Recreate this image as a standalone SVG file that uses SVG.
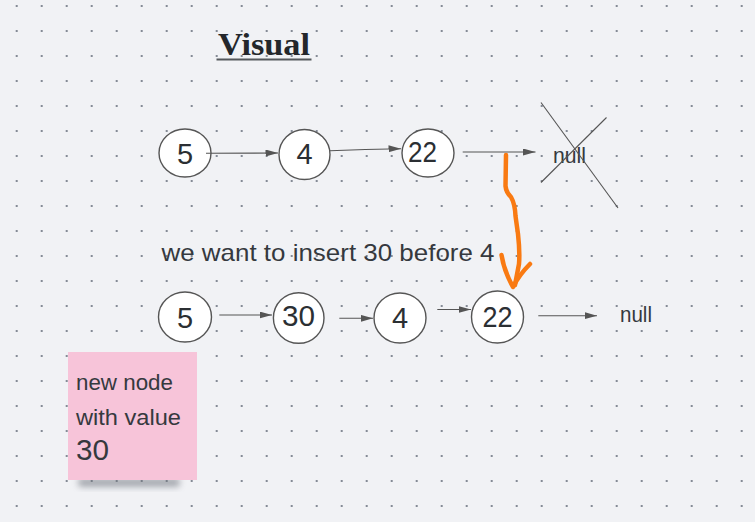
<svg xmlns="http://www.w3.org/2000/svg" width="755" height="522" viewBox="0 0 755 522">
  <defs>
    <pattern id="dots" x="16.7" y="6" width="25" height="25" patternUnits="userSpaceOnUse">
      <rect x="-1" y="-1" width="2" height="2" fill="#858b96"/>
      <rect x="24" y="-1" width="2" height="2" fill="#858b96"/>
      <rect x="-1" y="24" width="2" height="2" fill="#858b96"/>
      <rect x="24" y="24" width="2" height="2" fill="#858b96"/>
    </pattern>
    <marker id="arr" markerUnits="userSpaceOnUse" markerWidth="13" markerHeight="8" refX="12.5" refY="3.5" orient="auto">
      <path d="M0,0 L12.5,3.5 L0,7 z" fill="#555"/>
    </marker>
    <filter id="shadow" x="-20%" y="-50%" width="140%" height="200%">
      <feGaussianBlur stdDeviation="3"/>
    </filter>
    <style>
      .node ellipse { fill: #fff; stroke: #555; stroke-width: 1.4; }
      .num { font-family: "Liberation Sans", "Noto Sans", sans-serif; font-size: 29px; fill: #2b2f33; text-anchor: middle; }
      .hand { font-family: "Liberation Sans", "Noto Sans", sans-serif; fill: #35393e; }
      .conn line, .conn path { stroke: #555; stroke-width: 1.1; fill: none; marker-end: url(#arr); }
    </style>
  </defs>

  <rect width="755" height="522" fill="#f1f2f5"/>
  <rect width="755" height="522" fill="url(#dots)"/>

  <!-- Title -->
  <g id="title">
    <text x="218" y="55" font-family="'Liberation Serif', 'DejaVu Serif', serif" font-weight="bold" font-size="31" fill="#24272b" textLength="92" lengthAdjust="spacingAndGlyphs">Visual</text>
    <line x1="216.5" y1="59.5" x2="311.5" y2="59.5" stroke="#55585c" stroke-width="2"/>
  </g>

  <!-- Row 1 nodes -->
  <g id="r1-n5" class="node">
    <ellipse cx="185" cy="153" rx="26" ry="24"/>
    <text class="num" x="185" y="163.5">5</text>
  </g>
  <g id="r1-n4" class="node">
    <ellipse cx="304.5" cy="154.5" rx="25.5" ry="25"/>
    <text class="num" x="304.5" y="163.5">4</text>
  </g>
  <g id="r1-n22" class="node">
    <ellipse cx="428" cy="153" rx="26" ry="24"/>
    <text class="num" x="422.5" y="161.5" textLength="29" lengthAdjust="spacingAndGlyphs">22</text>
  </g>
  <g id="r1-null">
    <text class="hand" x="553" y="163" font-size="22" textLength="33" lengthAdjust="spacingAndGlyphs">null</text>
    <line x1="541" y1="102.5" x2="618" y2="208" stroke="#555" stroke-width="1.1"/>
    <line x1="606.5" y1="117.5" x2="541" y2="182.5" stroke="#555" stroke-width="1.1"/>
  </g>

  <!-- Caption -->
  <g id="caption">
    <text class="hand" x="161.5" y="260.5" font-size="24" textLength="333" lengthAdjust="spacingAndGlyphs">we want to insert 30 before 4</text>
  </g>

  <!-- Row 2 nodes -->
  <g id="r2-n5" class="node">
    <ellipse cx="185" cy="317" rx="26.5" ry="25"/>
    <text class="num" x="185" y="327.5">5</text>
  </g>
  <g id="r2-n30" class="node">
    <ellipse cx="298.7" cy="318" rx="25.3" ry="25.3"/>
    <text class="num" x="298.5" y="326" textLength="33" lengthAdjust="spacingAndGlyphs">30</text>
  </g>
  <g id="r2-n4" class="node">
    <ellipse cx="400" cy="318" rx="26" ry="25"/>
    <text class="num" x="400" y="327.5">4</text>
  </g>
  <g id="r2-n22" class="node">
    <ellipse cx="497.5" cy="317" rx="26" ry="26"/>
    <text class="num" x="497.5" y="327" textLength="30" lengthAdjust="spacingAndGlyphs">22</text>
  </g>
  <g id="r2-null">
    <text class="hand" x="620" y="322" font-size="22" textLength="32" lengthAdjust="spacingAndGlyphs">null</text>
  </g>

  <!-- Sticky note -->
  <g id="sticky">
    <rect x="78" y="478" width="102" height="9" rx="4" fill="#6b6f78" opacity="0.55" filter="url(#shadow)"/>
    <rect x="68" y="352" width="129" height="128" fill="#f7c4d9"/>
    <text class="hand" x="76" y="390" font-size="22.5" textLength="97" lengthAdjust="spacingAndGlyphs">new node</text>
    <text class="hand" x="76" y="425" font-size="22.5" textLength="105" lengthAdjust="spacingAndGlyphs">with value</text>
    <text class="hand" x="76" y="459.5" font-size="29" textLength="33" lengthAdjust="spacingAndGlyphs">30</text>
  </g>

  <!-- Connectors -->
  <g id="connectors" class="conn">
    <line x1="206" y1="153.3" x2="278" y2="153"/>
    <path d="M330,150.8 Q365,149 401,148.7"/>
    <line x1="462.7" y1="152" x2="535.5" y2="152"/>
    <line x1="219.3" y1="315" x2="272" y2="315"/>
    <line x1="339.3" y1="318.3" x2="373" y2="318.3"/>
    <line x1="437.3" y1="309.5" x2="471" y2="309.5"/>
    <line x1="538.3" y1="315.7" x2="597" y2="315.7"/>
  </g>

  <!-- Orange hand-drawn arrow -->
  <g id="orange-arrow" fill="none" stroke="#f97a12" stroke-width="4.5" stroke-linecap="round" stroke-linejoin="round">
    <path d="M506,155 L505.5,186 Q506,192 511,197 Q515,204 515.5,216 L518,234 Q520,252 519,264 L515,285"/>
    <path d="M501.5,255 Q504,271 513,287 Q519,275 530,264"/>
  </g>
</svg>
